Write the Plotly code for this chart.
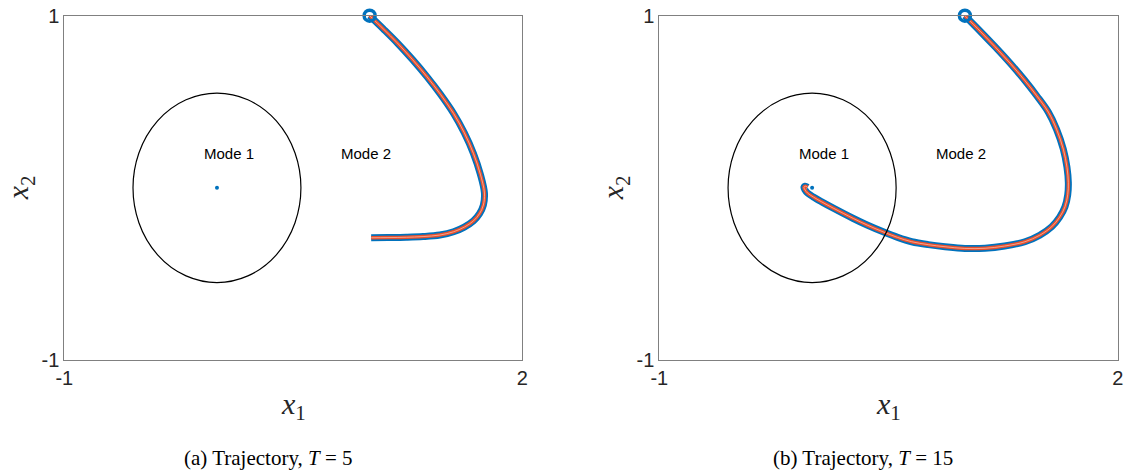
import plotly.graph_objects as go

# trajectory (a), T = 5
traj_a_x = [1.0, 1.09, 1.18, 1.28, 1.375, 1.465, 1.55, 1.62, 1.68, 1.725, 1.752,
            1.745, 1.72, 1.68, 1.62, 1.55, 1.46, 1.35, 1.24, 1.12, 1.01]
traj_a_y = [1.0, 0.923, 0.843, 0.746, 0.646, 0.542, 0.432, 0.32, 0.2, 0.08, -0.03,
            -0.1, -0.15, -0.192, -0.228, -0.255, -0.274, -0.283, -0.287, -0.289, -0.29]

# trajectory (b), T = 15
traj_b_x = [1.0, 1.1, 1.197, 1.295, 1.39, 1.47, 1.546, 1.6, 1.644, 1.668, 1.677,
            1.673, 1.655, 1.62, 1.568, 1.49, 1.393, 1.26, 1.132, 1.0, 0.87, 0.76,
            0.652, 0.56, 0.477, 0.36, 0.27, 0.139, 0.06, 0.008, -0.03, -0.046,
            -0.053, -0.045, -0.03]
traj_b_y = [1.0, 0.91, 0.82, 0.725, 0.626, 0.535, 0.44, 0.34, 0.225, 0.12, 0.03,
            -0.04, -0.11, -0.17, -0.226, -0.275, -0.313, -0.338, -0.351, -0.352,
            -0.342, -0.33, -0.313, -0.288, -0.26, -0.216, -0.178, -0.118, -0.08,
            -0.053, -0.03, -0.012, 0.003, 0.01, 0.004]

start_pt = (1.0, 1.0)
equilibrium = (0.0, 0.0)
mode1_radius = 0.55
mode_labels = ["Mode 1", "Mode 2"]
mode_label_x = [-0.1, 0.8]
mode_label_y = [0.2, 0.2]
captions = ["(a) Trajectory, <i>T</i> = 5", "(b) Trajectory, <i>T</i> = 15"]

blue = "#0072BD"
red = "#E8502E"

W, H = 1125, 472
panels = [(64.3, 522.3), (659.3, 1117.7)]
top_px, bot_px = 15.7, 360


def px(v):
    return v / W


def py(v):
    return 1 - v / H


fig = go.Figure()
layout = dict(width=W, height=H, margin=dict(l=0, r=0, t=0, b=0, autoexpand=False),
              plot_bgcolor="white", paper_bgcolor="white", showlegend=False,
              shapes=[], annotations=[])

tick_font = dict(family="Arial", size=20, color="#262626")
trajs = [(traj_a_x, traj_a_y), (traj_b_x, traj_b_y)]
for i, (tx, ty) in enumerate(trajs):
    sfx = "" if i == 0 else str(i + 1)
    xa, ya = "x" + sfx, "y" + sfx
    left, right = panels[i]
    layout["xaxis" + sfx] = dict(domain=[px(left), px(right)], range=[-1, 2],
                                 tickvals=[-1, 2], ticktext=["-1", "2"],
                                 showgrid=False, zeroline=False, mirror=True,
                                 showline=True, linecolor="#808080", linewidth=1,
                                 ticks="", anchor=ya, fixedrange=True, automargin=False,
                                 ticklabeloverflow="allow", tickfont=tick_font)
    layout["yaxis" + sfx] = dict(domain=[py(bot_px), py(top_px)], range=[-1, 1],
                                 tickvals=[-1, 1], ticktext=["-1", "1"],
                                 showgrid=False, zeroline=False, mirror=True,
                                 showline=True, linecolor="#808080", linewidth=1,
                                 ticks="", anchor=xa, fixedrange=True, automargin=False,
                                 ticklabeloverflow="allow", tickfont=tick_font)
    layout["shapes"].append(dict(type="circle", xref=xa, yref=ya,
                                 x0=equilibrium[0] - mode1_radius, x1=equilibrium[0] + mode1_radius,
                                 y0=equilibrium[1] - mode1_radius, y1=equilibrium[1] + mode1_radius,
                                 line=dict(color="black", width=1.2)))
    for lab, lx, ly in zip(mode_labels, mode_label_x, mode_label_y):
        layout["annotations"].append(dict(text=lab, x=lx, y=ly, xref=xa, yref=ya,
                                          xanchor="left", yanchor="middle", showarrow=False,
                                          font=dict(family="Arial", size=15, color="black")))
    layout["annotations"].append(dict(text="<i>x</i><sub>1</sub>", x=px((left + right) / 2),
                                      y=py(406), xref="paper", yref="paper", showarrow=False,
                                      xanchor="center", yanchor="middle",
                                      font=dict(family="Liberation Serif", size=30, color="#262626")))
    layout["annotations"].append(dict(text="<i>x</i><sub>2</sub>", x=px(left - 44),
                                      y=py(188), xref="paper", yref="paper",
                                      showarrow=False, textangle=-90,
                                      xanchor="center", yanchor="middle",
                                      font=dict(family="Liberation Serif", size=30, color="#262626")))
    layout["annotations"].append(dict(text=captions[i], x=px([268.6, 863][i]), y=py(458),
                                      xref="paper", yref="paper", showarrow=False,
                                      xanchor="center", yanchor="middle",
                                      font=dict(family="Liberation Serif", size=21, color="black")))

    fig.add_trace(go.Scatter(x=tx, y=ty, xaxis=xa, yaxis=ya, mode="lines",
                             line=dict(color=blue, width=7, shape="spline", smoothing=1.0),
                             hoverinfo="skip"))
    fig.add_trace(go.Scatter(x=tx, y=ty, xaxis=xa, yaxis=ya, mode="lines",
                             line=dict(color=red, width=3.5, shape="spline", smoothing=1.0),
                             hoverinfo="skip"))
    fig.add_trace(go.Scatter(x=tx, y=ty, xaxis=xa, yaxis=ya, mode="lines",
                             line=dict(color="#F7B9A2", width=0.8, shape="spline", smoothing=1.0),
                             hoverinfo="skip"))
    fig.add_trace(go.Scatter(x=[equilibrium[0]], y=[equilibrium[1]], xaxis=xa, yaxis=ya,
                             mode="markers", marker=dict(color=blue, size=4)))
    fig.add_trace(go.Scatter(x=[start_pt[0]], y=[start_pt[1]], xaxis=xa, yaxis=ya,
                             mode="markers", cliponaxis=False,
                             marker=dict(symbol="circle-open", size=11, color=blue,
                                         line=dict(color=blue, width=3.5))))

fig.update_layout(**layout)
# drop the default page margin so the figure sits at the window's top-left corner
fig.write_html("out.html", config={"displayModeBar": False},
               post_script="document.body.style.margin = '0';")
